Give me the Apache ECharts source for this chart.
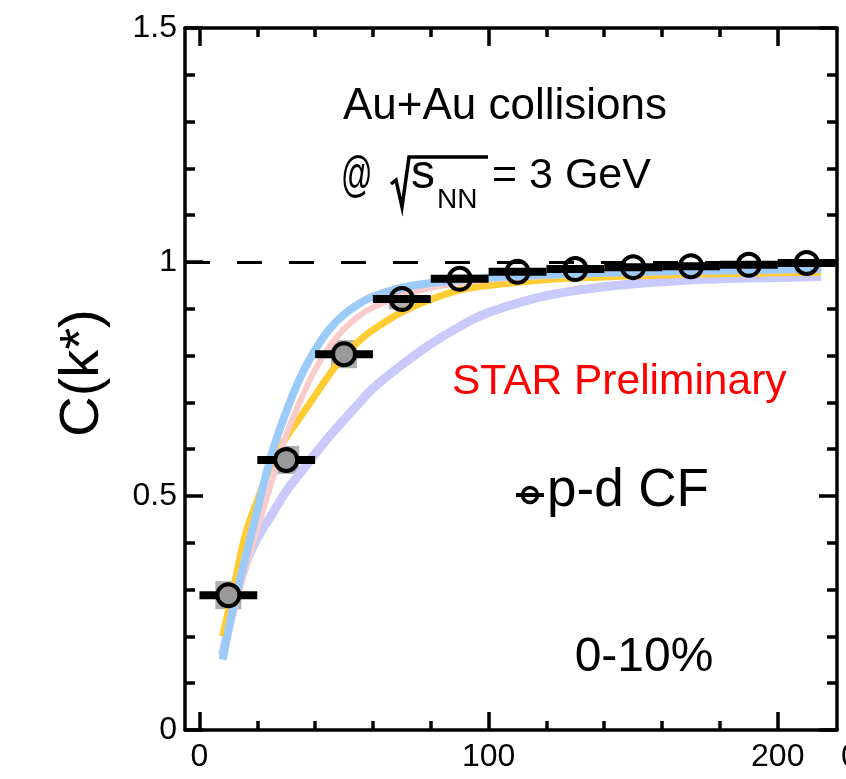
<!DOCTYPE html>
<html>
<head>
<meta charset="utf-8">
<script src="https://cdn.jsdelivr.net/npm/echarts@6/dist/echarts.min.js"></script>
<style>html,body{margin:0;padding:0;background:#fff;}#c{width:846px;height:779px;}</style>
</head>
<body>
<div id="c"></div>
<script>
// ---- data ----
const kstar = [10, 30, 50, 70, 90, 110, 130, 150, 170, 190, 210];
const cf = [0.288, 0.577, 0.803, 0.921, 0.964, 0.979, 0.985, 0.989, 0.991, 0.994, 0.998];
const kstarErr = [10, 10, 10, 10, 10, 10, 10, 10, 10, 10, 10];
const sysErr = [0.03, 0.03, 0.03, 0.022, 0.01, 0.008, 0.006, 0.005, 0.005, 0.004, 0.004];
const nFilled = 3;

const modelK = [8, 12, 16, 20, 25, 30, 35, 40, 45, 50, 55, 60, 70, 80, 90, 100, 120, 140, 160, 180, 200, 215];
const modelBlue = [0.15, 0.27, 0.37, 0.47, 0.59, 0.68, 0.755, 0.812, 0.857, 0.888, 0.91, 0.926, 0.945, 0.955, 0.962, 0.967, 0.973, 0.977, 0.98, 0.982, 0.984, 0.985];
const modelPink = [0.155, 0.255, 0.345, 0.43, 0.53, 0.63, 0.705, 0.77, 0.82, 0.857, 0.884, 0.903, 0.928, 0.945, 0.955, 0.962, 0.97, 0.975, 0.978, 0.98, 0.982, 0.983];
const modelYellow = [0.2, 0.31, 0.42, 0.49, 0.57, 0.625, 0.67, 0.715, 0.76, 0.8, 0.83, 0.855, 0.893, 0.92, 0.94, 0.95, 0.962, 0.968, 0.972, 0.975, 0.977, 0.978];
const modelLavender = [0.16, 0.27, 0.355, 0.41, 0.46, 0.51, 0.55, 0.59, 0.628, 0.663, 0.697, 0.73, 0.78, 0.825, 0.862, 0.892, 0.928, 0.947, 0.958, 0.964, 0.967, 0.969];

const xMajorTicks = [0, 100, 200];
const xMinorTicks = [20, 40, 60, 80, 120, 140, 160, 180];
const xRange = [-5, 220.5];
const yRange = [0, 1.5];
const yInterval = 0.5;
const referenceLevel = 1;

// ---- build ----
const FONT = 'Liberation Sans';
const AXW = 3.5;
const chart = echarts.init(document.getElementById('c'), null, {renderer: 'canvas'});

function pairs(xs, ys) { return xs.map((x, i) => [x, ys[i]]); }

function xAxisCfg(pos, ticks, len, showLine, showLabel) {
  return {
    type: 'value', position: pos, min: xRange[0], max: xRange[1],
    axisLine: {show: showLine, onZero: false, lineStyle: {color: '#000', width: AXW}},
    axisTick: {show: true, inside: true, length: len, customValues: ticks, lineStyle: {color: '#000', width: AXW}},
    axisLabel: {show: showLabel, customValues: ticks, fontSize: 32, color: '#000', fontFamily: FONT, margin: 11},
    splitLine: {show: false}
  };
}
function yAxisCfg(pos, showLabel) {
  return {
    type: 'value', position: pos, min: yRange[0], max: yRange[1], interval: yInterval,
    axisLine: {show: true, onZero: false, lineStyle: {color: '#000', width: AXW}},
    axisTick: {show: true, inside: true, length: 18, lineStyle: {color: '#000', width: AXW}},
    minorTick: {show: true, splitNumber: 5, length: 10, lineStyle: {color: '#000', width: AXW}},
    axisLabel: {show: showLabel, fontSize: 32, color: '#000', fontFamily: FONT, margin: 8},
    splitLine: {show: false}, minorSplitLine: {show: false}
  };
}

function band(name, ys, color, width) {
  return {
    name, type: 'line', data: pairs(modelK, ys), showSymbol: false, smooth: 0.4,
    lineStyle: {color, width, cap: 'butt', join: 'round'}, z: 3, silent: true
  };
}

const dataPts = kstar.map((k, i) => [k, cf[i], kstarErr[i], sysErr[i]]);

const option = {
  animation: false,
  backgroundColor: '#fff',
  grid: {left: 185, right: 9, top: 28, bottom: 49, containLabel: false},
  xAxis: [
    xAxisCfg('bottom', xMajorTicks, 18, true, true),
    xAxisCfg('bottom', xMinorTicks, 9, false, false),
    xAxisCfg('top', xMajorTicks, 18, true, false),
    xAxisCfg('top', xMinorTicks, 9, false, false)
  ],
  yAxis: [yAxisCfg('left', true), yAxisCfg('right', false)],
  series: [
    {
      type: 'line', data: [], silent: true, z: 4,
      markLine: {
        silent: true, symbol: ['none', 'none'], label: {show: false},
        lineStyle: {color: '#000', width: 3, type: [25, 27]},
        data: [{yAxis: referenceLevel}]
      }
    },
    {
      type: 'custom', z: 2, silent: true, data: dataPts,
      renderItem: function (params, api) {
        const x = api.value(0), y = api.value(1), s = api.value(3);
        const a = api.coord([x, y + s]), b = api.coord([x, y - s]);
        return {type: 'rect', shape: {x: a[0] - 13, y: a[1], width: 26, height: b[1] - a[1]}, style: {fill: '#b0b0b0'}};
      }
    },
    band('lavender', modelLavender, '#c9c9fb', 9),
    band('yellow', modelYellow, '#ffcc33', 7),
    band('pink', modelPink, '#fbcaca', 6),
    band('blue', modelBlue, '#9ccbfa', 8),
    {
      type: 'custom', z: 6, silent: true, data: dataPts,
      renderItem: function (params, api) {
        const x = api.value(0), y = api.value(1), dx = api.value(2);
        const a = api.coord([x - dx, y]), b = api.coord([x + dx, y]);
        return {type: 'line', shape: {x1: a[0], y1: a[1], x2: b[0], y2: b[1]}, style: {stroke: '#000', lineWidth: 8}};
      }
    },
    {
      type: 'scatter', z: 7, silent: true, symbol: 'circle', symbolSize: 22,
      data: pairs(kstar.slice(0, nFilled), cf.slice(0, nFilled)),
      itemStyle: {color: '#999', borderColor: '#000', borderWidth: 4, opacity: 1}
    },
    {
      type: 'scatter', z: 7, silent: true, symbol: 'circle', symbolSize: 22,
      data: pairs(kstar.slice(nFilled), cf.slice(nFilled)),
      itemStyle: {color: 'rgba(0,0,0,0)', borderColor: '#000', borderWidth: 4, opacity: 1}
    }
  ],
  graphic: [
    {type: 'text', x: 83, y: 373, rotation: Math.PI / 2, z: 10,
      style: {text: 'C(k*)', fontSize: 56, fontFamily: FONT, fill: '#000', align: 'center', verticalAlign: 'middle'}},
    {type: 'text', x: 505, y: 107, z: 10,
      style: {text: 'Au+Au collisions', fontSize: 44, fontFamily: FONT, fill: '#000', align: 'center', verticalAlign: 'middle'}},
    {type: 'text', x: 341, y: 177, z: 10, scaleX: 0.62,
      style: {text: '@', fontSize: 50, fontFamily: FONT, fill: '#000', align: 'left', verticalAlign: 'middle'}},
    {type: 'polyline', z: 10,
      shape: {points: [[391, 184], [396, 180], [402, 207], [409, 157], [488, 157]]},
      style: {stroke: '#000', lineWidth: 3.5, fill: null, lineJoin: 'miter'}},
    {type: 'text', x: 411, y: 175, z: 10,
      style: {text: 's', fontSize: 48, fontFamily: FONT, fill: '#000', align: 'left', verticalAlign: 'middle'}},
    {type: 'text', x: 437, y: 200, z: 10,
      style: {text: 'NN', fontSize: 28, fontFamily: FONT, fill: '#000', align: 'left', verticalAlign: 'middle'}},
    {type: 'text', x: 492, y: 176, z: 10,
      style: {text: '= 3 GeV', fontSize: 43, fontFamily: FONT, fill: '#000', align: 'left', verticalAlign: 'middle'}},
    {type: 'text', x: 452, y: 382, z: 10,
      style: {text: 'STAR Preliminary', fontSize: 42.5, fontFamily: FONT, fill: '#ff0000', align: 'left', verticalAlign: 'middle'}},
    {type: 'line', z: 10, shape: {x1: 516, y1: 495, x2: 544, y2: 495}, style: {stroke: '#000', lineWidth: 4}},
    {type: 'circle', z: 10, shape: {cx: 530, cy: 495, r: 7.5}, style: {stroke: '#000', lineWidth: 3.5, fill: null}},
    {type: 'text', x: 547, y: 491, z: 10,
      style: {text: 'p-d CF', fontSize: 53, fontFamily: FONT, fill: '#000', align: 'left', verticalAlign: 'middle'}},
    {type: 'text', x: 644, y: 658, z: 10,
      style: {text: '0-10%', fontSize: 48, fontFamily: FONT, fill: '#000', align: 'center', verticalAlign: 'middle'}},
    {type: 'text', x: 841, y: 757, z: 10,
      style: {text: '0', fontSize: 32, fontFamily: FONT, fill: '#000', align: 'left', verticalAlign: 'middle'}}
  ]
};
chart.setOption(option);
</script>
</body>
</html>
